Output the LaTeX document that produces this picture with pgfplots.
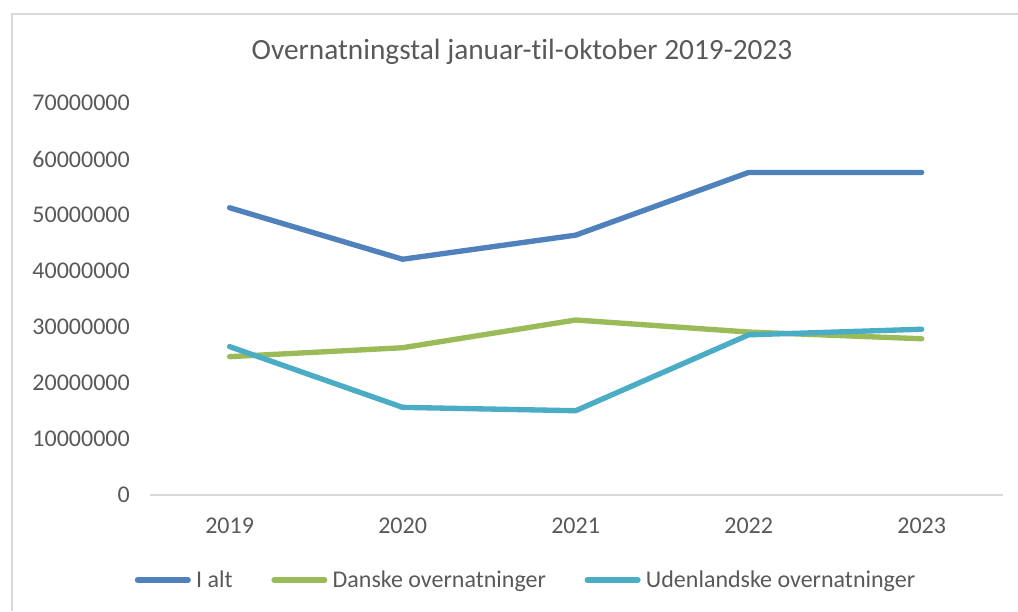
\documentclass[border=0pt]{standalone}
\usepackage{pgfplots}
\pgfplotsset{compat=1.18}
\usepackage{fontspec}
\setmainfont{Carlito}[Ligatures=NoCommon]
\definecolor{cblue}{HTML}{4F81BD}
\definecolor{cgreen}{HTML}{9BBB59}
\definecolor{ccyan}{HTML}{4BACC6}
\definecolor{ctext}{HTML}{595959}
\definecolor{cgrid}{HTML}{D9D9D9}
\begin{document}
\begin{tikzpicture}
\fill[white] (0,0) rectangle (763.5pt,458.25pt);
\draw[cgrid, line width=1.1pt] (9pt,0pt) -- (9pt,447.75pt) -- (770pt,447.75pt);
\node[text=ctext, font=\fontsize{22}{26}\selectfont] at (391.5pt,419.25pt) {Overnatningstal januar-til-oktober 2019-2023};
\begin{axis}[
  at={(112.5pt,87pt)}, anchor=south west,
  scale only axis, width=639.75pt, height=294pt,
  xmin=-0.46, xmax=4.47, ymin=0, ymax=70000000,
  axis x line*=bottom, axis y line*=left,
  x axis line style={-, draw=cgrid, line width=1.1pt},
  y axis line style={-, draw=none},
  major tick length=0pt,
  scaled y ticks=false,
  xtick={0,1,2,3,4}, xticklabels={2019,2020,2021,2022,2023},
  ytick={0,10000000,20000000,30000000,40000000,50000000,60000000,70000000},
  yticklabels={0,10000000,20000000,30000000,40000000,50000000,60000000,70000000},
  /pgf/number format/assume math mode=true,
  ticklabel style={font=\fontsize{18}{21}\selectfont, text=ctext},
  xticklabel style={anchor=north, inner sep=0pt, yshift=-17pt},
  yticklabel style={anchor=east, inner sep=0pt, xshift=-15pt},
  legend columns=3,
  legend style={at={(0.4396,-0.2168)}, anchor=center, draw=none, fill=none,
    font=\fontsize{18}{21}\selectfont, text=ctext, inner sep=0pt,
    nodes={inner sep=0pt, anchor=west},
    /tikz/every odd column/.append style={column sep=4pt},
    /tikz/every even column/.append style={column sep=29pt}},
  legend image code/.code={\draw[#1, line cap=round] (0pt,0pt) -- (38pt,0pt);},
  every axis plot/.append style={line width=4pt, line join=round, line cap=round, mark=none},
  clip=false,
]
\addplot[cblue] coordinates {(0,51300000) (1,42100000) (2,46400000) (3,57600000) (4,57600000)};
\addlegendentry{I alt}
\addplot[cgreen] coordinates {(0,24700000) (1,26300000) (2,31250000) (3,29100000) (4,27900000)};
\addlegendentry{Danske overnatninger}
\addplot[ccyan] coordinates {(0,26500000) (1,15650000) (2,15050000) (3,28600000) (4,29600000)};
\addlegendentry{Udenlandske overnatninger}
\end{axis}
\pgfresetboundingbox
\useasboundingbox (0,0) rectangle (763.5pt,458.25pt);
\end{tikzpicture}
\end{document}
